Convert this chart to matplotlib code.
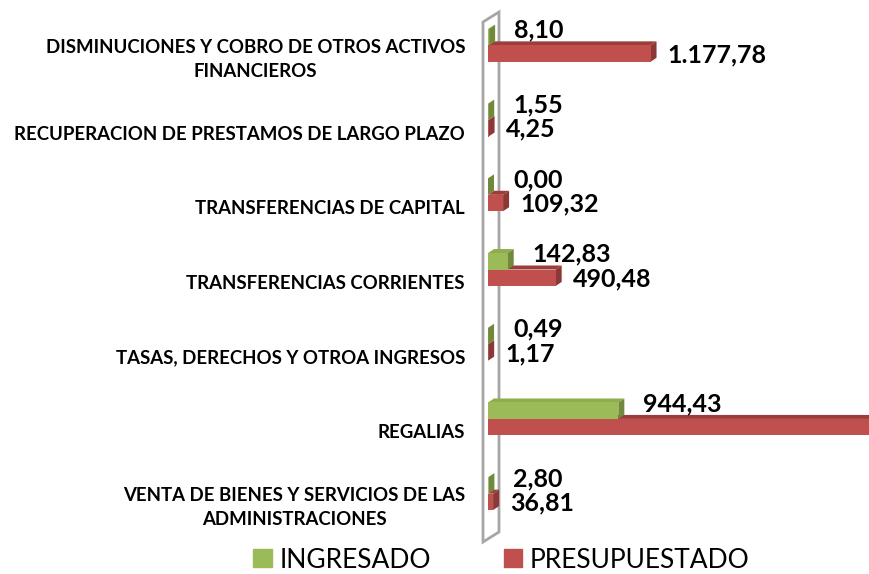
import numpy as np
import matplotlib.pyplot as plt
from matplotlib.patches import Polygon, Patch
from matplotlib.transforms import ScaledTranslation, IdentityTransform

plt.rcParams['font.family'] = ['Lato', 'DejaVu Sans']

# Datos (de arriba hacia abajo)
categorias = ["DISMINUCIONES Y COBRO DE OTROS ACTIVOS\nFINANCIEROS",
              "RECUPERACION DE PRESTAMOS DE LARGO PLAZO",
              "TRANSFERENCIAS DE CAPITAL",
              "TRANSFERENCIAS CORRIENTES",
              "TASAS, DERECHOS Y OTROA INGRESOS",
              "REGALIAS",
              "VENTA DE BIENES Y SERVICIOS DE LAS\nADMINISTRACIONES"]
ingresado = [8.10, 1.55, 0.00, 142.83, 0.49, 944.43, 2.80]
# REGALIAS presupuestado sale del grafico (etiqueta no visible), valor estimado
presupuestado = [1177.78, 4.25, 109.32, 490.48, 1.17, 2900.0, 36.81]

# Colores
verde, verde_top, verde_lado = "#9BBB59", "#8DAE4E", "#71893A"
rojo, rojo_top, rojo_lado = "#C0504D", "#9C3D3A", "#8C3836"

W, H = 869, 574
fig = plt.figure(figsize=(W / 100, H / 100), dpi=100)
ax = fig.add_axes([488 / W, 1 - 531 / H, 381 / W, 523 / H])
ax.set_xlim(0, 381 / 0.138)
ax.set_ylim(-0.5, 6.5)
ax.patch.set_visible(False)
for s in ax.spines.values():
    s.set_visible(False)
ax.set_xticks([])
ax.set_yticks([])


def fmt(v):
    # formato espanol: miles con punto, decimales con coma
    s = f"{v:,.2f}"
    return s.replace(",", "X").replace(".", ",").replace("X", ".")


# pixeles -> unidades de datos
sx = (ax.get_xlim()[1] - ax.get_xlim()[0]) / ax.bbox.width
sy = (ax.get_ylim()[1] - ax.get_ylim()[0]) / ax.bbox.height
dx, dy = 6 * sx, 4 * sy


def barra3d(y0, h, v, c, c_top, c_lado, z):
    top = [(0, y0 + h), (v, y0 + h), (v + dx, y0 + h + dy), (dx, y0 + h + dy)]
    lado = [(v, y0), (v + dx, y0 + dy), (v + dx, y0 + h + dy), (v, y0 + h)]
    ax.add_patch(Polygon(top, closed=True, facecolor=c_top, edgecolor='none', zorder=z))
    ax.add_patch(Polygon(lado, closed=True, facecolor=c_lado, edgecolor='none', zorder=z))
    ax.barh(y0 + h / 2, v, height=h, left=0, color=c, zorder=z + 0.1)


# pared de fondo
pared = Polygon([(483, H - 542), (483, H - 22), (499, H - 12), (499, H - 532)],
                closed=True, facecolor='white', edgecolor='#A6A6A6', linewidth=2,
                transform=IdentityTransform(), zorder=0.5, clip_on=False)
ax.add_patch(pared)

h = 0.22
pos = np.arange(len(categorias))[::-1]
for i, y in enumerate(pos):
    barra3d(y - h, h, presupuestado[i], rojo, rojo_top, rojo_lado, 2)
    barra3d(y, h, ingresado[i], verde, verde_top, verde_lado, 3)
    ax.annotate(fmt(ingresado[i]), xy=(ingresado[i], y + h / 2), xytext=(25, 7),
                textcoords='offset pixels', ha='left', va='center',
                fontsize=18, fontweight='bold', zorder=5)
    ax.annotate(fmt(presupuestado[i]), xy=(presupuestado[i], y - h / 2), xytext=(17, -1),
                textcoords='offset pixels', ha='left', va='center',
                fontsize=18, fontweight='bold', zorder=5)
    ax.text(0, y, categorias[i],
            transform=ax.get_yaxis_transform() + ScaledTranslation(-0.23, -0.14, fig.dpi_scale_trans),
            ha='right', va='center', multialignment='center',
            fontsize=13.4, fontweight='bold', linespacing=1.5)

fig.legend(handles=[Patch(color=verde, label="INGRESADO"),
                    Patch(color=rojo, label="PRESUPUESTADO")],
           loc='center', bbox_to_anchor=(0.577, 1 - 560 / H), ncol=2, frameon=False,
           fontsize=19, handlelength=0.69, handleheight=0.69, handletextpad=0.3,
           columnspacing=2.75, borderpad=0)

fig.savefig("out.png", dpi=100)
